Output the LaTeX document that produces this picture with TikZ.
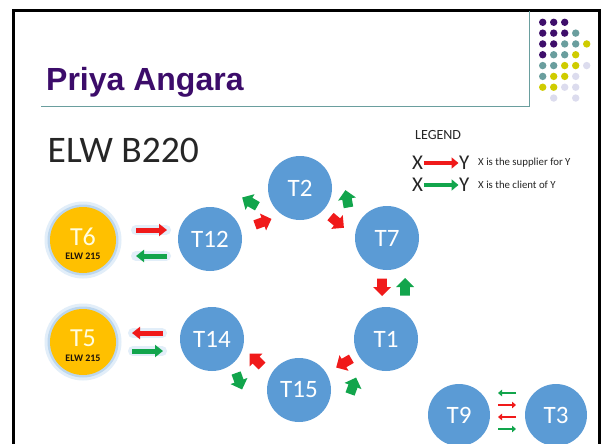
\documentclass[tikz,border=0pt]{standalone}
\usepackage{fontspec}
\setmainfont{Carlito}
\newfontfamily\titlefont{Liberation Sans}
\usetikzlibrary{arrows.meta,calc}
\definecolor{tpurple}{HTML}{3C0C6A}
\definecolor{dpurple}{HTML}{3F0F6B}
\definecolor{dteal}{HTML}{6A9E9E}
\definecolor{dyellow}{HTML}{CFCC00}
\definecolor{dlav}{HTML}{DCDCEE}
\definecolor{tblue}{HTML}{5B9BD5}
\definecolor{torange}{HTML}{FFC000}
\definecolor{glowa}{HTML}{E2EEF9}
\definecolor{glowb}{HTML}{BDD7EE}
\definecolor{ared}{HTML}{F01A1A}
\definecolor{agreen}{HTML}{12A54C}
\definecolor{txtdark}{HTML}{262626}
\newcommand\blockarr[3]{\fill[#3, shift={#1}, rotate=#2] (-8.5,-4.8) -- (0,-4.8) -- (0,-9) -- (9,0) -- (0,9) -- (0,4.8) -- (-8.5,4.8) -- cycle;}
\begin{document}
\begin{tikzpicture}[x=1pt,y=-1pt,
  bluec/.style={circle, fill=tblue, minimum size=64pt, inner sep=0pt, text=white, font=\fontsize{25}{25}\selectfont},
  smallc/.style={bluec, minimum size=62pt},
  orangec/.style={circle, fill=torange, minimum size=66pt, inner sep=0pt},
  dotp/.style={circle, inner sep=0pt, minimum size=7.4pt},
  bigarr/.style={line width=5pt, -{Triangle[length=8pt,width=12pt]}},
  legarr/.style={line width=4.5pt, -{Triangle[length=7pt,width=11pt]}},
  tinyarr/.style={line width=2.8pt, -{Triangle[length=4pt,width=6.5pt]}},
  halo/.style={line width=10pt, glowa, line cap=round},
  legx/.style={anchor=west, inner sep=0pt, text=txtdark, font=\fontsize{21}{21}\selectfont},
  legt/.style={anchor=west, inner sep=0pt, text=txtdark, font=\fontsize{10.8}{10.8}\selectfont}
]
\useasboundingbox (0,0) rectangle (602,444);
\fill[white] (0,0) rectangle (602,444);
% slide frame
\draw[line width=2.5pt, black] (13.5,444) -- (13.5,10.5) -- (599.5,10.5) -- (599.5,444);
% title
\node[anchor=base west, inner sep=0pt, text=tpurple, font=\titlefont\bfseries\fontsize{32}{32}\selectfont] (title) at (46,90) {Priya Angara};
\draw[dteal, line width=1pt] (41,106) -- (529,106) -- (529,11.5);
% dots
\foreach \c/\r/\col in {0/0/dpurple,1/0/dpurple,2/0/dpurple,
  0/1/dpurple,1/1/dpurple,2/1/dpurple,3/1/dteal,
  0/2/dpurple,1/2/dpurple,2/2/dteal,3/2/dteal,4/2/dyellow,
  0/3/dpurple,1/3/dteal,2/3/dteal,3/3/dyellow,
  0/4/dteal,1/4/dteal,2/4/dyellow,3/4/dyellow,4/4/dlav,
  0/5/dteal,1/5/dyellow,2/5/dyellow,3/5/dlav,
  0/6/dyellow,1/6/dyellow,2/6/dlav,3/6/dlav,
  1/7/dlav,3/7/dlav}
  \node[dotp, fill=\col] (dot\c\r) at ({542.7+11*\c},{22.3+10.82*\r}) {};
% heading
\node[anchor=base west, inner sep=0pt, text=txtdark, font=\fontsize{37.5}{37.5}\selectfont] (room) at (47.5,162) {ELW B220};
% legend
\node[anchor=west, inner sep=0pt, text=txtdark, font=\fontsize{14}{14}\selectfont] (legend) at (415,135) {LEGEND};
\node[legx] (lx1) at (412,163) {X};
\node[legx] (ly1) at (459,163) {Y};
\node[legt] (lt1) at (478,163) {X is the supplier for Y};
\node[legx] (lx2) at (412,185) {X};
\node[legx] (ly2) at (459,185) {Y};
\node[legt] (lt2) at (478,185) {X is the client of Y};
\draw[legarr, ared] ([xshift=0.5pt]lx1.east) -- ([xshift=-0.5pt]ly1.west);
\draw[legarr, agreen] ([xshift=0.5pt]lx2.east) -- ([xshift=-0.5pt]ly2.west);
% orange circles with glow
\foreach \p in {{(83,240)}, {(83,342)}}{
  \fill[glowa] \p circle (38.5);
  \fill[glowb] \p circle (35.5);
}
\node[orangec] (T6) at (83,240) {};
\node[orangec] (T5) at (83,342) {};
\node[text=white!88!yellow, inner sep=0pt, font=\fontsize{26}{26}\selectfont] (T6a) at (83,236.5) {T6};
\node[text=black!85!brown, inner sep=0pt, font=\bfseries\fontsize{10}{10}\selectfont] (T6b) at (83,256) {ELW 215};
\node[text=white!88!yellow, inner sep=0pt, font=\fontsize{26}{26}\selectfont] (T5a) at (83,338.5) {T5};
\node[text=black!85!brown, inner sep=0pt, font=\bfseries\fontsize{10}{10}\selectfont] (T5b) at (83,358) {ELW 215};
% blue circles
\node[bluec] (T12) at (210,239) {T12};
\node[bluec] (T2) at (300,188) {T2};
\node[bluec] (T7) at (387,238) {T7};
\node[bluec] (T1) at (386,339) {T1};
\node[bluec] (T15) at (299,390) {T15};
\node[bluec] (T14) at (212,339) {T14};
\node[smallc] (T9) at (459,415) {T9};
\node[smallc] (T3) at (556,415) {T3};
% arrows T6 <-> T12 and T5 <-> T14
\draw[halo] (136,230) -- (166,230);
\draw[halo] (136,256) -- (166,256);
\draw[halo] (133,333) -- (162,333);
\draw[halo] (133,351) -- (162,351);
\draw[bigarr, ared] (136,230) -- (167,230);
\draw[bigarr, agreen] (167,256) -- (136,256);
\draw[bigarr, ared] (163,333) -- (132,333);
\draw[bigarr, agreen] (132,351) -- (163,351);
% block arrows around the ring
\blockarr{(263,222)}{20}{ared}
\blockarr{(250,202)}{150}{agreen}
\blockarr{(337,222)}{-40}{ared}
\blockarr{(347,199)}{100}{agreen}
\blockarr{(382,287)}{-90}{ared}
\blockarr{(405,287)}{90}{agreen}
\blockarr{(344,363)}{210}{ared}
\blockarr{(353,386)}{70}{agreen}
\blockarr{(256,360)}{135}{ared}
\blockarr{(239,381)}{-70}{agreen}
% T9 <-> T3
\draw[tinyarr, agreen] (516,393) -- (498,393);
\draw[tinyarr, ared] (498,405) -- (516,405);
\draw[tinyarr, ared] (516,417) -- (498,417);
\draw[tinyarr, agreen] (498,429) -- (516,429);
\end{tikzpicture}
\end{document}
